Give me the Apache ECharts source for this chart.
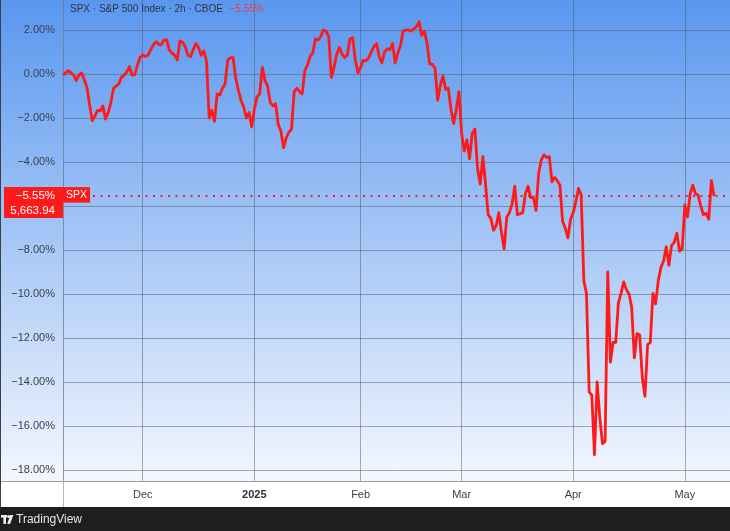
<!DOCTYPE html>
<html>
<head>
<meta charset="utf-8">
<script src="https://cdn.jsdelivr.net/npm/echarts@6/dist/echarts.min.js"></script>
<style>
html,body{margin:0;padding:0;background:#fff;}
#c{width:730px;height:531px;}
</style>
</head>
<body>
<div id="c"></div>
<script>
// ---- trading days (two 2h-ish samples per day) ----
const novDays = ['2024-11-08','2024-11-11','2024-11-12','2024-11-13','2024-11-14','2024-11-15','2024-11-18','2024-11-19','2024-11-20','2024-11-21','2024-11-22','2024-11-25','2024-11-26','2024-11-27','2024-11-29'];
const decDays = ['2024-12-02','2024-12-03','2024-12-04','2024-12-05','2024-12-06','2024-12-09','2024-12-10','2024-12-11','2024-12-12','2024-12-13','2024-12-16','2024-12-17','2024-12-18','2024-12-19','2024-12-20','2024-12-23','2024-12-24','2024-12-26','2024-12-27','2024-12-30','2024-12-31'];
const janDays = ['2025-01-02','2025-01-03','2025-01-06','2025-01-07','2025-01-08','2025-01-10','2025-01-13','2025-01-14','2025-01-15','2025-01-16','2025-01-17','2025-01-21','2025-01-22','2025-01-23','2025-01-24','2025-01-27','2025-01-28','2025-01-29','2025-01-30','2025-01-31'];
const febDays = ['2025-02-03','2025-02-04','2025-02-05','2025-02-06','2025-02-07','2025-02-10','2025-02-11','2025-02-12','2025-02-13','2025-02-14','2025-02-18','2025-02-19','2025-02-20','2025-02-21','2025-02-24','2025-02-25','2025-02-26','2025-02-27','2025-02-28'];
const marDays = ['2025-03-03','2025-03-04','2025-03-05','2025-03-06','2025-03-07','2025-03-10','2025-03-11','2025-03-12','2025-03-13','2025-03-14','2025-03-17','2025-03-18','2025-03-19','2025-03-20','2025-03-21','2025-03-24','2025-03-25','2025-03-26','2025-03-27','2025-03-28','2025-03-31'];
const aprDays = ['2025-04-01','2025-04-02','2025-04-03','2025-04-04','2025-04-07','2025-04-08','2025-04-09','2025-04-10','2025-04-11','2025-04-14','2025-04-15','2025-04-16','2025-04-17','2025-04-21','2025-04-22','2025-04-23','2025-04-24','2025-04-25','2025-04-28','2025-04-29','2025-04-30'];
const mayDays = ['2025-05-01','2025-05-02','2025-05-05','2025-05-06','2025-05-07','2025-05-08'];
const padDays = ['2025-05-09','2025-05-12','2025-05-13'];
const sessions = ['11:30','16:00'];

// ---- % change vs. start ----
const novPct = [-0.05,0.05,0.15,0.05,-0.05,-0.3,-0.05,0.05,-0.25,-0.6,
  -1.4,-2.12,-1.9,-1.65,-1.68,-1.45,-2.05,-1.75,-1.3,-0.65,
  -0.55,-0.45,-0.15,-0.05,0.1,0.33,-0.05,-0.03,0.4,0.75];
const decPct = [0.86,0.8,0.86,1.1,1.32,1.47,1.35,1.32,1.55,1.55,
  1.1,0.95,0.86,0.64,1.5,1.45,1.24,0.85,0.8,1.1,
  1.39,1.2,0.85,1.05,0.6,-2.0,-1.65,-2.15,-0.9,-0.95,
  -0.65,-0.45,0.64,0.74,0.74,-0.2,-0.75,-1.2,-1.5,-2.0,
  -1.75,-2.4];
const janPct = [-1.6,-1.05,-0.9,0.3,-0.3,-0.55,-1.3,-1.45,-1.35,-2.3,
  -2.6,-3.35,-2.9,-2.65,-2.5,-0.8,-0.65,-0.8,-0.9,0.15,
  0.4,0.8,0.95,1.6,1.55,1.7,2.0,1.95,1.7,-0.15,
  0.3,0.9,1.2,0.9,0.75,0.86,1.6,1.65,0.64,0.05];
const febPct = [0.3,0.62,0.6,0.73,1.0,1.24,1.39,0.8,0.5,1.0,
  1.15,1.1,1.39,0.5,0.95,1.3,1.95,2.0,2.0,1.95,
  2.05,2.15,2.38,1.75,1.95,1.4,0.45,0.45,0.26,-1.2,
  -0.5,-0.1,-0.7,-0.65,-1.6,-2.25,-1.6,-0.8];
const marPct = [-2.7,-3.5,-3.0,-3.85,-2.7,-2.5,-4.3,-5.0,-3.76,-5.0,
  -6.4,-6.56,-7.1,-6.9,-6.3,-7.2,-7.95,-6.5,-6.3,-5.9,
  -5.1,-6.4,-6.35,-6.3,-5.45,-5.1,-5.62,-5.6,-6.2,-4.5,
  -3.9,-3.68,-3.8,-3.75,-4.9,-4.7,-4.85,-5.05,-6.7,-7.0,
  -7.45,-6.6];
const aprPct = [-6.3,-5.8,-5.2,-5.5,-9.4,-10.0,-14.45,-14.6,-17.3,-14.0,
  -15.6,-16.8,-16.7,-9.0,-13.1,-12.2,-12.2,-10.4,-9.97,-9.45,
  -9.8,-10.0,-10.6,-12.9,-11.8,-11.85,-13.8,-14.65,-12.3,-12.2,
  -9.97,-10.45,-9.4,-8.8,-8.5,-7.85,-8.7,-7.8,-7.65,-7.24,
  -8.05,-7.95];
const mayPct = [-5.95,-6.5,-5.45,-5.05,-5.45,-5.5,-6.0,-6.4,-6.33,-6.6,
  -4.85,-5.55];

const monthTicks = [['2024-12-02','Dec'],['2025-01-02','2025'],['2025-02-03','Feb'],['2025-03-03','Mar'],['2025-04-01','Apr'],['2025-05-01','May']];
const yMin = -20, yMax = 4, yStep = 2;
const lastClose = 5663.94;
const symbol = 'SPX';
const titleText = 'SPX \u00b7 S&P 500 Index \u00b7 2h \u00b7 CBOE';

// ---- build ----
const tradingDays = [].concat(novDays, decDays, janDays, febDays, marDays, aprDays, mayDays);
const categories = [];
tradingDays.concat(padDays).forEach(d => sessions.forEach(s => categories.push(d + ' ' + s)));
const values = [].concat(novPct, decPct, janPct, febPct, marPct, aprPct, mayPct);
const tickMap = {};
monthTicks.forEach(([d, l]) => { tickMap[d + ' ' + sessions[0]] = l; });
const lastPct = values[values.length - 1];
const fmtPct = v => (v < 0 ? '\u2212' : '') + Math.abs(v).toFixed(2) + '%';
const fmtPrice = v => v.toLocaleString('en-US', {minimumFractionDigits: 2, maximumFractionDigits: 2});

const RED = '#ff1a1a';
const GRID = 'rgba(85,88,100,0.5)';
const FONT = '"Liberation Sans", Arial, sans-serif';

const chart = echarts.init(document.getElementById('c'), null, {renderer: 'canvas'});
const option = {
  animation: false,
  backgroundColor: new echarts.graphic.LinearGradient(0, 0, 0, 1, [
    {offset: 0, color: '#5997ef'},
    {offset: 0.9058, color: '#f3f7fe'},
    {offset: 0.906, color: '#ffffff'},
    {offset: 1, color: '#ffffff'}
  ]),
  textStyle: {fontFamily: FONT},
  grid: [
    {left: 63, right: 0, top: -14, height: 528, containLabel: false, outerBoundsMode: 'none'},
    {left: 63, right: 0, top: 481, height: 1, containLabel: false, outerBoundsMode: 'none'}
  ],
  xAxis: [
    {
      type: 'category', gridIndex: 0, data: categories, boundaryGap: false,
      axisLine: {show: false}, axisTick: {show: false}, axisLabel: {show: false},
      splitLine: {show: true, interval: (i, v) => (v in tickMap), lineStyle: {color: GRID, width: 1}}
    },
    {
      type: 'category', gridIndex: 1, data: categories, boundaryGap: false, z: 200,
      axisLine: {show: false}, axisTick: {show: false}, splitLine: {show: false},
      axisLabel: {
        show: true, interval: (i, v) => (v in tickMap),
        formatter: v => (tickMap[v] === '2025' ? '{b|2025}' : (tickMap[v] || '')),
        color: '#3b3f4a', fontSize: 11, margin: 7, fontFamily: FONT,
        rich: {b: {fontWeight: 'bold', fontSize: 11, color: '#2a2e39', fontFamily: FONT}}
      }
    }
  ],
  yAxis: [
    {
      type: 'value', gridIndex: 0, min: yMin, max: yMax, interval: yStep, position: 'left',
      axisLine: {show: true, lineStyle: {color: 'rgba(110,120,140,0.75)', width: 1}},
      axisTick: {show: false},
      axisLabel: {formatter: fmtPct, color: '#3b3f4a', fontSize: 11, margin: 8, fontFamily: FONT},
      splitLine: {show: true, lineStyle: {color: GRID, width: 1}}
    },
    {type: 'value', gridIndex: 1, show: false}
  ],
  series: [{
    type: 'line', xAxisIndex: 0, yAxisIndex: 0, data: values,
    symbol: 'none', showSymbol: false, z: 5,
    lineStyle: {color: RED, width: 2.8, join: 'round'},
    itemStyle: {color: RED},
    markLine: {
      silent: true, symbol: ['none', 'none'], label: {show: false},
      lineStyle: {color: RED, width: 2, type: [2, 5.5]},
      data: [{yAxis: lastPct}]
    }
  }]
};
chart.setOption(option);

const py = chart.convertToPixel({yAxisIndex: 0}, lastPct);
const Z = 100;
chart.setOption({
  graphic: [
    // x-axis band
    {type: 'rect', z: Z, shape: {x: 0, y: 481, width: 730, height: 26}, style: {fill: '#ffffff'}},
    {type: 'line', z: Z + 1, shape: {x1: 0, y1: 481.5, x2: 730, y2: 481.5}, style: {stroke: '#9a9ca3', lineWidth: 1}},
    {type: 'line', z: Z + 1, shape: {x1: 63.5, y1: 481, x2: 63.5, y2: 507}, style: {stroke: '#b5b8bf', lineWidth: 1}},
    // footer
    {type: 'rect', z: Z, shape: {x: 0, y: 507, width: 730, height: 24}, style: {fill: '#1e1e1e'}},
    {type: 'rect', z: Z + 2, shape: {x: 1, y: 515, width: 6, height: 2.6}, style: {fill: '#eeeeee'}},
    {type: 'rect', z: Z + 2, shape: {x: 3.4, y: 515, width: 2.6, height: 9}, style: {fill: '#eeeeee'}},
    {type: 'circle', z: Z + 2, shape: {cx: 8.6, cy: 516.4, r: 1.5}, style: {fill: '#eeeeee'}},
    {type: 'polygon', z: Z + 2, shape: {points: [[10.2, 515], [13.4, 515], [10, 524], [7.2, 524]]}, style: {fill: '#eeeeee'}},
    {type: 'text', z: Z + 2, x: 16, y: 520, style: {text: 'TradingView', fill: '#e6e6e6', font: '12px ' + FONT, verticalAlign: 'middle', align: 'left'}},
    // left border
    {type: 'line', z: Z + 1, shape: {x1: 0.5, y1: 0, x2: 0.5, y2: 507}, style: {stroke: '#3c3f46', lineWidth: 1}},
    // title
    {type: 'text', z: Z + 2, x: 70, y: 9, style: {
      text: '{t|' + titleText + '}  {r|' + fmtPct(lastPct) + '}',
      verticalAlign: 'middle', align: 'left',
      rich: {
        t: {fill: '#2f3340', font: '10px ' + FONT},
        r: {fill: '#ee3a4a', font: '10px ' + FONT}
      }
    }},
    // price label
    {type: 'rect', z: Z + 5, shape: {x: 4, y: py - 9, width: 59, height: 31}, style: {fill: RED}},
    {type: 'text', z: Z + 6, x: 55, y: py, style: {text: fmtPct(lastPct), fill: '#ffffff', font: '11.5px ' + FONT, align: 'right', verticalAlign: 'middle'}},
    {type: 'text', z: Z + 6, x: 55, y: py + 14.5, style: {text: fmtPrice(lastClose), fill: '#ffffff', font: '11.5px ' + FONT, align: 'right', verticalAlign: 'middle'}},
    {type: 'rect', z: Z + 5, shape: {x: 63, y: py - 9, width: 27, height: 15.5}, style: {fill: RED}},
    {type: 'text', z: Z + 6, x: 76.5, y: py - 1, style: {text: symbol, fill: '#ffffff', font: '10.5px ' + FONT, align: 'center', verticalAlign: 'middle'}}
  ]
});
</script>
</body>
</html>
